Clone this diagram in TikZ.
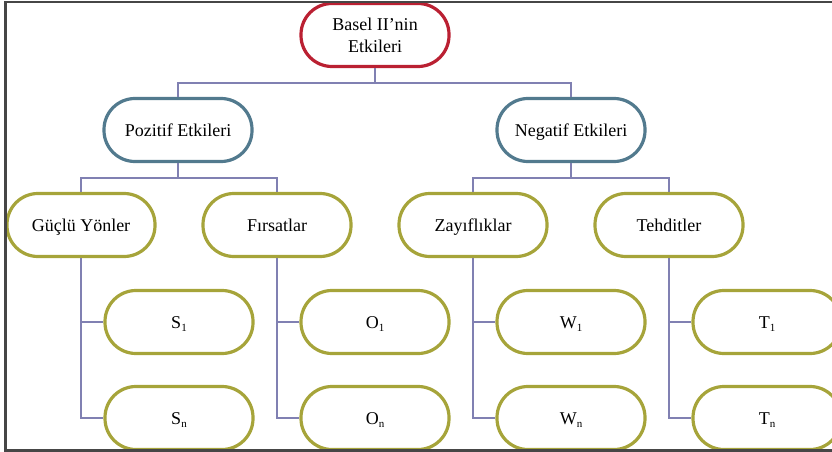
\documentclass[tikz,border=0pt]{standalone}
\usepackage{fontspec}
\setmainfont{Liberation Serif}
\definecolor{redb}{RGB}{186,32,50}
\definecolor{blueb}{RGB}{82,122,142}
\definecolor{oliveb}{RGB}{166,164,58}
\definecolor{conn}{RGB}{128,128,178}
\definecolor{frm}{RGB}{70,70,70}
\newcommand{\sbx}[1]{\raisebox{-0.35ex}{\fontsize{11}{11}\selectfont #1}}
\tikzset{
  pill/.style={rectangle, rounded corners=31pt, minimum width=148pt, minimum height=63pt,
    inner sep=0pt, line width=3.2pt, fill=white, align=center,
    font=\fontsize{18}{22}\selectfont},
  oneline/.style={text height=12.5pt, text depth=0pt},
  toppill/.style={pill, draw=redb},
  midpill/.style={pill, oneline, draw=blueb},
  lowpill/.style={pill, oneline, draw=oliveb},
  conline/.style={draw=conn, line width=1.6pt},
  frameline/.style={draw=frm, line width=2.4pt}
}
\begin{document}
\begin{tikzpicture}[x=1pt,y=-1pt]
\useasboundingbox (0,0) rectangle (832,452);
\clip (0,0) rectangle (832,452);
% nodes
\node[toppill] (basel) at (375,35) {Basel II’nin\\Etkileri};
\node[midpill] (poz) at (178,130) {Pozitif Etkileri};
\node[midpill] (neg) at (571,130) {Negatif Etkileri};
\node[lowpill] (guc) at (81,225) {Güçlü Yönler};
\node[lowpill] (fir) at (277,225) {Fırsatlar};
\node[lowpill] (zay) at (473,225) {Zayıflıklar};
\node[lowpill] (teh) at (669,225) {Tehditler};
\node[lowpill] (s1) at (179,322) {S\sbx{1}};
\node[lowpill] (sn) at (179,418) {S\sbx{n}};
\node[lowpill] (o1) at (375,322) {O\sbx{1}};
\node[lowpill] (on) at (375,418) {O\sbx{n}};
\node[lowpill] (w1) at (571,322) {W\sbx{1}};
\node[lowpill] (wn) at (571,418) {W\sbx{n}};
\node[lowpill] (t1) at (767,322) {T\sbx{1}};
\node[lowpill] (tn) at (767,418) {T\sbx{n}};
% bus coordinates
\coordinate (bb) at (375,83);
\coordinate (pb) at (178,178);
\coordinate (nb) at (571,178);
% connectors
\draw[conline] (basel.south) -- (bb);
\draw[conline] (poz.north) |- (bb) -| (neg.north);
\draw[conline] (poz.south) -- (pb);
\draw[conline] (guc.north) |- (pb) -| (fir.north);
\draw[conline] (neg.south) -- (nb);
\draw[conline] (zay.north) |- (nb) -| (teh.north);
\draw[conline] (guc.south) |- (s1.west);
\draw[conline] (guc.south) |- (sn.west);
\draw[conline] (fir.south) |- (o1.west);
\draw[conline] (fir.south) |- (on.west);
\draw[conline] (zay.south) |- (w1.west);
\draw[conline] (zay.south) |- (wn.west);
\draw[conline] (teh.south) |- (t1.west);
\draw[conline] (teh.south) |- (tn.west);
% frame
\draw[frameline] (5.5,452) -- (5.5,2.2) -- (832,2.2);
\draw[frameline] (4.3,450.6) -- (832,450.6);
\end{tikzpicture}
\end{document}
